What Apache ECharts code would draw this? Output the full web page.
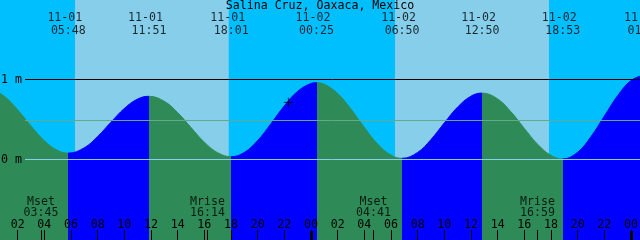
<!DOCTYPE html>
<html>
<head>
<meta charset="utf-8">
<script src="https://cdn.jsdelivr.net/npm/echarts@6/dist/echarts.min.js"></script>
<style>
  html, body { margin: 0; padding: 0; background: #fff; }
  #chart { width: 640px; height: 240px; }
</style>
</head>
<body>
<div id="chart"></div>
<script>
// ---- Data (hours counted from 11-01 00:00) ----
const tideHours = [0,1,2,3,4,5,5.8,7,8,9,10,11,11.85,13,14,15,16,17,18.017,19,20,21,22,23,24,24.417,25,26,27,28,29,30,30.833,32,33,34,35,36,36.833,38,39,40,41,42,42.883,44,45,46,47,48,49.05];
const tideHeights = [0.887,0.79,0.621,0.419,0.235,0.112,0.08,0.147,0.288,0.467,0.638,0.756,0.79,0.727,0.586,0.40,0.217,0.085,0.035,0.088,0.237,0.448,0.671,0.852,0.950,0.96,0.941,0.825,0.630,0.401,0.193,0.054,0.015,0.089,0.25,0.458,0.656,0.792,0.83,0.757,0.596,0.389,0.19,0.051,0.008,0.091,0.286,0.543,0.798,0.987,1.06];

const eventHours = [5.8, 11.85, 18.017, 24.417, 30.833, 36.833, 42.883, 49.05];
const eventKinds = ['low','high','low','high','low','high','low','high'];
const eventDates = ['11-01','11-01','11-01','11-02','11-02','11-02','11-02','11-03'];
const eventTimes = ['05:48','11:51','18:01','00:25','06:50','12:50','18:53','01:03'];

const moonHours = [3.75, 16.233, 28.683, 40.983];
const moonNames = ['Mset','Mrise','Mset','Mrise'];
const moonTimes = ['03:45','16:14','04:41','16:59'];

const sunriseHours = [6.3, 30.3];
const sunsetHours = [17.83, 41.85];

const hourTickValues = [2,4,6,8,10,12,14,16,18,20,22,24,26,28,30,32,34,36,38,40,42,44,46,48];
const hourTickLabels = ['02','04','06','08','10','12','14','16','18','20','22','00','02','04','06','08','10','12','14','16','18','20','22','00'];
const midnightHours = [24, 48];

const levelValues = [1, 0];
const levelLabels = ['1 m', '0 m'];
const meanLevel = 0.4875;

const nowHour = 22.3;
const nowHeight = 0.715;

const title = 'Salina Cruz, Oaxaca, Mexico';

// ---- Layout / style ----
const X_MIN = 0.675, X_MAX = 48.675;
const Y_MAX = 1.99375, Y_MIN = Y_MAX - 3;
const LINE_START = X_MIN + 25 / (640 / (X_MAX - X_MIN));
const FONT = 'DejaVu Sans Mono';
const FS = 11.6;
const GREEN = '#2E8B57', BLUE = '#0000FF';
const NIGHT = '#00BFFF', DAY = '#87CEEB';

const tideData = tideHours.map((h, i) => [h, tideHeights[i]]);

const pieces = [];
let prev = -Infinity;
let prevColor = eventKinds[0] === 'low' ? GREEN : BLUE;
eventHours.forEach((h, i) => {
  pieces.push({ gte: prev, lt: h, color: prevColor });
  prev = h;
  prevColor = eventKinds[i] === 'low' ? BLUE : GREEN;
});
pieces.push({ gte: prev, lt: Infinity, color: prevColor });

const dayAreas = sunriseHours.map((s, i) => [{ xAxis: s, itemStyle: { color: DAY } }, { xAxis: sunsetHours[i] }]);

const hLine = (v, color) => [
  { coord: [LINE_START, v], lineStyle: { color: color, width: 1, type: 'solid' } },
  { coord: [X_MAX, v] }
];

const chart = echarts.init(document.getElementById('chart'), null, { renderer: 'canvas' });
chart.setOption({
  animation: false,
  backgroundColor: '#fff',
  title: {
    text: title, left: 'center', top: 0, padding: 0,
    textStyle: { fontFamily: FONT, fontSize: FS, fontWeight: 'normal', color: '#000', lineHeight: 12 }
  },
  grid: { left: 0, right: 0, top: 0, bottom: 0, containLabel: false, outerBoundsMode: 'none',
          show: true, backgroundColor: NIGHT, borderWidth: 0 },
  xAxis: [
    {
      type: 'value', min: X_MIN, max: X_MAX, position: 'bottom',
      axisLine: { show: false, onZero: false }, splitLine: { show: false },
      axisTick: { show: true, inside: true, length: 10, customValues: hourTickValues.concat(moonHours),
                  lineStyle: { color: '#000', width: 1 } },
      axisLabel: { show: true, inside: true, margin: 9, customValues: hourTickValues,
                   formatter: v => hourTickLabels[hourTickValues.indexOf(v)] || '',
                   fontFamily: FONT, fontSize: FS, color: '#000' },
      z: 10
    },
    {
      type: 'value', min: X_MIN, max: X_MAX, position: 'bottom', offset: 0,
      axisLine: { show: false, onZero: false }, splitLine: { show: false }, axisLabel: { show: false },
      axisTick: { show: true, inside: true, length: 9, customValues: midnightHours,
                  lineStyle: { color: '#000', width: 3 } },
      z: 10
    }
  ],
  yAxis: {
    type: 'value', min: Y_MIN, max: Y_MAX,
    axisLine: { show: false, onZero: false }, axisTick: { show: false }, splitLine: { show: false },
    axisLabel: { show: true, inside: true, margin: 1, customValues: levelValues,
                 formatter: v => levelLabels[levelValues.indexOf(v)] || '',
                 fontFamily: FONT, fontSize: FS, color: '#000' },
    z: 10
  },
  visualMap: { type: 'piecewise', show: false, dimension: 0, seriesIndex: 0, pieces: pieces },
  series: [
    {
      type: 'line', name: 'tide', data: tideData, smooth: 0.4, showSymbol: false, symbol: 'none',
      lineStyle: { width: 1 }, areaStyle: { origin: 'start', opacity: 1 }, z: 3,
      markArea: { silent: true, z: 1, data: dayAreas },
      markLine: {
        silent: true, symbol: 'none', z: 5, label: { show: false },
        data: [hLine(1, '#000'), hLine(meanLevel, '#66A88A'), hLine(0, '#87CEEB')]
      }
    },
    {
      type: 'scatter', name: 'events', xAxisIndex: 0, clip: false, symbolSize: 0, z: 6, silent: true,
      data: eventHours.map(h => [h, Y_MAX]),
      label: {
        show: true, position: 'bottom', distance: 11,
        fontFamily: FONT, fontSize: FS, color: '#000', lineHeight: 13,
        formatter: p => '{d|' + eventDates[p.dataIndex] + '}\n{t|' + eventTimes[p.dataIndex] + '}',
        rich: {
          d: { fontFamily: FONT, fontSize: FS, lineHeight: 13, color: '#000', padding: [0, 7, 0, 0] },
          t: { fontFamily: FONT, fontSize: FS, lineHeight: 13, color: '#000' }
        }
      }
    },
    {
      type: 'scatter', name: 'moon', xAxisIndex: 0, clip: false, symbolSize: 0, z: 6, silent: true,
      data: moonHours.map(h => [h, Y_MIN]),
      label: {
        show: true, position: 'top', distance: 21,
        fontFamily: FONT, fontSize: FS, color: '#000', lineHeight: 11.5,
        formatter: p => moonNames[p.dataIndex] + '\n' + moonTimes[p.dataIndex]
      }
    },
    {
      type: 'scatter', name: 'nowH', symbol: 'rect', symbolSize: [9, 1], z: 7, silent: true,
      itemStyle: { color: '#000' }, data: [[nowHour, nowHeight]]
    },
    {
      type: 'scatter', name: 'nowV', symbol: 'rect', symbolSize: [1, 9], z: 7, silent: true,
      itemStyle: { color: '#000' }, data: [[nowHour, nowHeight]]
    }
  ]
});
</script>
</body>
</html>
